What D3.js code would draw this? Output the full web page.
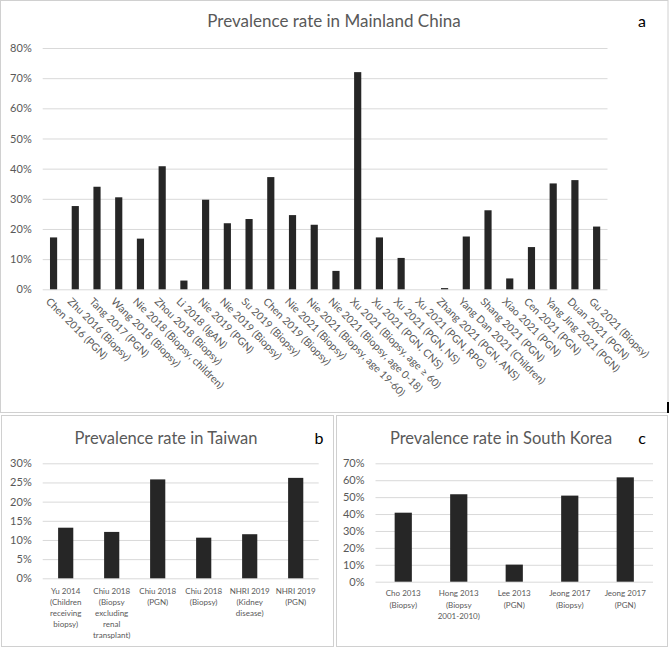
<!DOCTYPE html>
<html>
<head>
<meta charset="utf-8">
<script src="https://cdn.jsdelivr.net/npm/d3@7"></script>
<style>
  body { margin: 0; background: #fff; }
  text { font-family: Lato, "Open Sans", sans-serif; fill: #595959; }
</style>
</head>
<body>
<div id="chart"></div>
<script>
// panel a - mainland China
const chinaLabels = [
  'Chen 2016 (PGN)', 'Zhu 2016 (Biopsy)', 'Tang 2017 (PGN)', 'Wang 2018 (Biopsy)',
  'Nie 2018 (Biopsy, children)', 'Zhou 2018 (Biopsy)', 'Li 2018 (IgAN)', 'Nie 2019 (PGN)',
  'Nie 2019 (Biopsy)', 'Su 2019 (Biopsy)', 'Chen 2019 (Biopsy)', 'Nie 2021 (Biopsy)',
  'Nie 2021 (Biopsy, age 19-60)', 'Nie 2021 (Biopsy, age 0-18)', 'Xu 2021 (Biopsy, age ≥ 60)',
  'Xu 2021 (PGN, CNS)', 'Xu 2021 (PGN, NS)', 'Xu 2021 (PGN, RPG)', 'Zhang 2021 (PGN, ANS)',
  'Yang Dan 2021 (Children)', 'Shang 2021 (PGN)', 'Xiao 2021 (PGN)', 'Cen 2021 (PGN)',
  'Yang Jing 2021 (PGN)', 'Duan 2021 (PGN)', 'Gu 2021 (Biopsy)'
];
const chinaValues = [17.2, 27.6, 34.0, 30.5, 16.8, 40.8, 2.9, 29.7, 21.9, 23.3, 37.2, 24.6,
  21.4, 6.1, 72.0, 17.2, 10.4, 0, 0.4, 17.5, 26.2, 3.6, 14.0, 35.1, 36.2, 20.8];
const chinaTicks = [0, 10, 20, 30, 40, 50, 60, 70, 80];

// panel b - Taiwan
const taiwanLabels = [
  ['Yu 2014', '(Children', 'receiving', 'biopsy)'],
  ['Chiu 2018', '(Biopsy', 'excluding', 'renal', 'transplant)'],
  ['Chiu 2018', '(PGN)'],
  ['Chiu 2018', '(Biopsy)'],
  ['NHRI 2019', '(Kidney', 'disease)'],
  ['NHRI 2019', '(PGN)']
];
const taiwanValues = [13.2, 12.1, 25.8, 10.6, 11.5, 26.2];
const taiwanTicks = [0, 5, 10, 15, 20, 25, 30];

// panel c - South Korea
const koreaLabels = [
  ['Cho 2013', '(Biopsy)'],
  ['Hong 2013', '(Biopsy', '2001-2010)'],
  ['Lee 2013', '(PGN)'],
  ['Jeong 2017', '(Biopsy)'],
  ['Jeong 2017', '(PGN)']
];
const koreaValues = [40.8, 51.7, 10.1, 50.9, 61.7];
const koreaTicks = [0, 10, 20, 30, 40, 50, 60, 70];

let svg = d3.select('#chart')
  .append('svg')
  .attr('width', 669)
  .attr('height', 649);

// panel frames
svg.append('rect')
  .attr('x', 0.5).attr('y', 0.5).attr('width', 667.5).attr('height', 412)
  .attr('fill', 'none').attr('stroke', '#d0d0d0');
svg.append('line')
  .attr('x1', 668).attr('x2', 668).attr('y1', 402).attr('y2', 413)
  .attr('stroke', '#000').attr('stroke-width', 2);
svg.append('rect')
  .attr('x', 1.5).attr('y', 415.5).attr('width', 332).attr('height', 231)
  .attr('fill', 'none').attr('stroke', '#d0d0d0');
svg.append('rect')
  .attr('x', 336.5).attr('y', 415.5).attr('width', 331).attr('height', 231)
  .attr('fill', 'none').attr('stroke', '#d0d0d0');

function drawPanel(opts) {
  let x = d3.scaleBand()
    .domain(opts.labels.map((d, i) => i))
    .range([opts.left, opts.right])
    .paddingInner(opts.pad)
    .paddingOuter(opts.pad / 2);

  let y = d3.scaleLinear()
    .domain([0, d3.max(opts.ticks)])
    .range([opts.bottom, opts.top]);

  let g = svg.append('g');

  let yAxis = g.append('g')
    .attr('transform', `translate(${opts.left},0)`)
    .call(d3.axisLeft(y)
      .tickValues(opts.ticks)
      .tickSize(-(opts.right - opts.left))
      .tickPadding(11)
      .tickFormat(d => d + '%'));
  yAxis.select('.domain').remove();
  yAxis.selectAll('line').attr('stroke', '#d9d9d9');
  yAxis.selectAll('text')
    .style('font-family', 'Lato, sans-serif')
    .style('font-size', '11px')
    .attr('fill', '#595959');

  g.selectAll('rect.bar')
    .data(opts.values)
    .enter()
    .append('rect')
    .attr('class', 'bar')
    .attr('x', (d, i) => x(i))
    .attr('width', x.bandwidth())
    .attr('y', d => y(d))
    .attr('height', d => y(0) - y(d))
    .attr('fill', '#262626');

  g.append('text')
    .attr('x', opts.titleX)
    .attr('y', opts.titleY)
    .attr('text-anchor', 'middle')
    .style('font-size', opts.titleSize + 'px')
    .text(opts.title);

  g.append('text')
    .attr('x', opts.letterX)
    .attr('y', opts.titleY)
    .attr('text-anchor', 'middle')
    .style('font-size', '16px')
    .style('fill', '#000')
    .text(opts.letter);

  return { g, x, y };
}

// a
let a = drawPanel({
  labels: chinaLabels, values: chinaValues, ticks: chinaTicks,
  left: 42.7, right: 607.5, top: 48, bottom: 289.3, pad: 0.67,
  title: 'Prevalence rate in Mainland China', titleX: 334, titleY: 26.5, titleSize: 17,
  letter: 'a', letterX: 642
});

a.g.selectAll('text.xlab')
  .data(chinaLabels)
  .enter()
  .append('text')
  .attr('class', 'xlab')
  .attr('transform', (d, i) => `translate(${a.x(i) + a.x.bandwidth() / 2 - 3},297) rotate(45)`)
  .attr('dy', '0.7em')
  .style('font-size', '10.5px')
  .text(d => d);

// b and c share the multi-line label style
function multiLabels(p, labels, y0, lh) {
  let t = p.g.selectAll('text.xlab')
    .data(labels)
    .enter()
    .append('text')
    .attr('class', 'xlab')
    .attr('text-anchor', 'middle')
    .style('font-size', '8px');
  t.each(function (lines, i) {
    d3.select(this).selectAll('tspan')
      .data(lines)
      .enter()
      .append('tspan')
      .attr('x', p.x(i) + p.x.bandwidth() / 2)
      .attr('y', (d, k) => y0 + k * lh)
      .text(d => d);
  });
}

let b = drawPanel({
  labels: taiwanLabels, values: taiwanValues, ticks: taiwanTicks,
  left: 42.7, right: 318.7, top: 463.3, bottom: 578.3, pad: 0.67,
  title: 'Prevalence rate in Taiwan', titleX: 166, titleY: 443.5, titleSize: 16.5,
  letter: 'b', letterX: 319
});
multiLabels(b, taiwanLabels, 594, 11);

let c = drawPanel({
  labels: koreaLabels, values: koreaValues, ticks: koreaTicks,
  left: 375.5, right: 653, top: 463.3, bottom: 581.7, pad: 0.69,
  title: 'Prevalence rate in South Korea', titleX: 501, titleY: 443.5, titleSize: 16.5,
  letter: 'c', letterX: 642
});
multiLabels(c, koreaLabels, 596, 11.5);
</script>
</body>
</html>
